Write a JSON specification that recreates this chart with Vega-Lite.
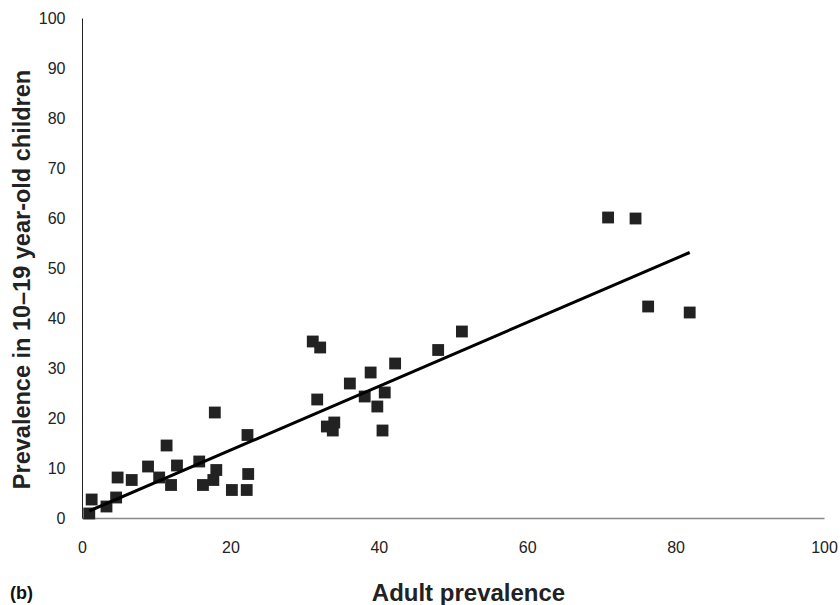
{
  "$schema": "https://vega.github.io/schema/vega-lite/v6.json",
  "autosize": "none",
  "width": 742,
  "height": 500,
  "padding": {"left": 82, "top": 18, "right": 16, "bottom": 87},
  "background": "white",
  "config": {"view": {"stroke": null}, "font": "Liberation Sans"},
  "title": {"text": "(b)", "orient": "bottom", "anchor": "start", "frame": "bounds", "baseline": "alphabetic", "dx": 0, "offset": -6.5, "fontSize": 18, "fontWeight": "bold", "font": "Liberation Sans", "color": "#111"},
  "layer": [
    {
      "data": {"values": [
        {"adult": 0.98, "child": 0.9}, {"adult": 1.3, "child": 3.7}, {"adult": 3.3, "child": 2.3},
        {"adult": 4.6, "child": 4.1}, {"adult": 4.8, "child": 8.1}, {"adult": 6.7, "child": 7.6},
        {"adult": 8.9, "child": 10.3}, {"adult": 10.4, "child": 8.1}, {"adult": 11.4, "child": 14.5},
        {"adult": 12.0, "child": 6.6}, {"adult": 12.8, "child": 10.5}, {"adult": 15.8, "child": 11.3},
        {"adult": 16.3, "child": 6.6}, {"adult": 17.7, "child": 7.6}, {"adult": 18.1, "child": 9.6},
        {"adult": 17.9, "child": 21.1}, {"adult": 20.2, "child": 5.6}, {"adult": 22.2, "child": 5.6},
        {"adult": 22.4, "child": 8.8}, {"adult": 22.3, "child": 16.6},
        {"adult": 31.1, "child": 35.3}, {"adult": 32.1, "child": 34.1}, {"adult": 31.7, "child": 23.7},
        {"adult": 36.1, "child": 26.9}, {"adult": 38.9, "child": 29.1}, {"adult": 42.2, "child": 30.9},
        {"adult": 38.1, "child": 24.3}, {"adult": 40.8, "child": 25.1}, {"adult": 39.8, "child": 22.3},
        {"adult": 33.0, "child": 18.3}, {"adult": 34.0, "child": 19.1}, {"adult": 33.8, "child": 17.5},
        {"adult": 40.5, "child": 17.5}, {"adult": 48.0, "child": 33.6}, {"adult": 51.2, "child": 37.3},
        {"adult": 70.9, "child": 60.1}, {"adult": 74.6, "child": 59.9}, {"adult": 76.3, "child": 42.3},
        {"adult": 81.9, "child": 41.1}
      ]},
      "mark": {"type": "point", "shape": "square", "filled": true, "size": 140, "color": "#222222", "opacity": 1},
      "encoding": {
        "x": {"field": "adult", "type": "quantitative", "scale": {"domain": [0, 100], "nice": false},
          "axis": {"title": "Adult prevalence", "values": [0, 20, 40, 60, 80, 100], "grid": false, "ticks": false, "labelFlush": false,
            "domainColor": "#888888", "domainWidth": 1.5, "labelFontSize": 16, "labelColor": "#222", "labelPadding": 21,
            "titleFontSize": 24, "titleFontWeight": "bold", "titleColor": "#222", "titleX": 386, "titleY": 82, "titleBaseline": "alphabetic", "titleAlign": "center"}},
        "y": {"field": "child", "type": "quantitative", "scale": {"domain": [0, 100], "nice": false},
          "axis": {"title": "Prevalence in 10\u201319 year-old children", "values": [0, 10, 20, 30, 40, 50, 60, 70, 80, 90, 100], "grid": false, "ticks": false, "labelFlush": false,
            "domainColor": "#222222", "domainWidth": 1, "labelFontSize": 16, "labelColor": "#222", "labelPadding": 17,
            "titleFontSize": 23.5, "titleFontWeight": "bold", "titleColor": "#222", "titleX": -60, "titleY": 261, "titleAngle": 270, "titleBaseline": "middle", "titleAlign": "center"}}
      }
    },
    {
      "data": {"values": [{"adult": 0.98, "child": 1.4}, {"adult": 81.9, "child": 53.1}]},
      "mark": {"type": "line", "color": "#000000", "strokeWidth": 3},
      "encoding": {
        "x": {"field": "adult", "type": "quantitative"},
        "y": {"field": "child", "type": "quantitative"}
      }
    }
  ]
}
